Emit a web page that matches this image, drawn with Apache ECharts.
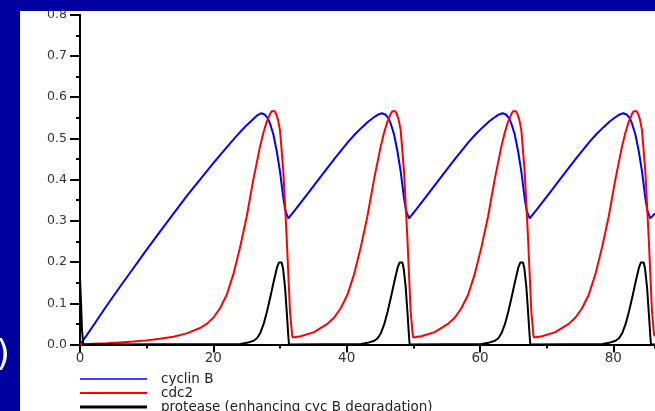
<!DOCTYPE html>
<html>
<head>
<meta charset="utf-8">
<script src="https://cdn.jsdelivr.net/npm/echarts@6/dist/echarts.min.js"></script>
<style>
  html, body { margin: 0; padding: 0; background: #fff; }
  #chart { width: 655px; height: 411px; }
</style>
</head>
<body>
<div id="chart"></div>
<script>
// time course: [t, concentration]
const cyclinB = [
  [0, 0], [1, 0.022], [2, 0.046], [4, 0.094], [6, 0.14], [8, 0.185], [10, 0.23], [12, 0.274],
  [14, 0.317], [16, 0.36], [18, 0.40], [20, 0.44], [22, 0.478], [23, 0.497], [24, 0.515],
  [25, 0.532], [26, 0.547], [26.6, 0.556], [27.2, 0.561], [27.7, 0.558], [28.2, 0.548],
  [28.5, 0.536], [29, 0.51], [29.5, 0.47], [30, 0.42], [30.5, 0.355], [30.8, 0.325], [31.25, 0.306],
  [32.25, 0.326], [34.25, 0.368], [36.25, 0.41], [38.25, 0.452], [40.25, 0.492], [41.25, 0.51],
  [42.25, 0.526], [43.25, 0.541], [44.25, 0.553], [44.75, 0.558], [45.3, 0.561], [45.8, 0.558],
  [46.3, 0.548], [46.6, 0.536], [47.1, 0.51], [47.6, 0.47], [48.1, 0.42], [48.6, 0.355],
  [48.9, 0.325], [49.35, 0.306],
  [50.35, 0.326], [52.35, 0.368], [54.35, 0.41], [56.35, 0.452], [58.35, 0.492], [59.35, 0.51],
  [60.35, 0.526], [61.35, 0.541], [62.35, 0.553], [62.85, 0.558], [63.4, 0.561], [63.9, 0.558],
  [64.4, 0.548], [64.7, 0.536], [65.2, 0.51], [65.7, 0.47], [66.2, 0.42], [66.7, 0.355],
  [67.0, 0.325], [67.45, 0.306],
  [68.45, 0.326], [70.45, 0.368], [72.45, 0.41], [74.45, 0.452], [76.45, 0.492], [77.45, 0.51],
  [78.45, 0.526], [79.45, 0.541], [80.45, 0.553], [80.95, 0.558], [81.5, 0.561], [82.0, 0.558],
  [82.5, 0.548], [82.8, 0.536], [83.3, 0.51], [83.8, 0.47], [84.3, 0.42], [84.8, 0.355],
  [85.1, 0.325], [85.55, 0.306], [86.25, 0.318]
]

const cdc2 = [
  [0, 0], [2, 0.002], [4, 0.003], [6, 0.005], [8, 0.007], [10, 0.01], [12, 0.014], [14, 0.019],
  [16, 0.027], [18, 0.04], [19, 0.05], [20, 0.065], [21, 0.088], [22, 0.12], [23, 0.17],
  [24, 0.235], [25, 0.31], [26, 0.40], [27, 0.48], [27.5, 0.513], [28, 0.54], [28.5, 0.559],
  [28.75, 0.566], [29, 0.568], [29.2, 0.566], [29.4, 0.56], [29.7, 0.545], [30, 0.52], [30.5, 0.42],
  [31, 0.26], [31.5, 0.08], [31.8, 0.025], [31.9, 0.017],
  [33.1, 0.02], [35.1, 0.03], [37.1, 0.05], [38.1, 0.065], [39.1, 0.088], [40.1, 0.12], [41.1, 0.17],
  [42.1, 0.235], [43.1, 0.31], [44.1, 0.40], [45.1, 0.48], [45.6, 0.513], [46.1, 0.54], [46.6, 0.559],
  [46.85, 0.566], [47.1, 0.568], [47.3, 0.566], [47.5, 0.56], [47.8, 0.545], [48.1, 0.52], [48.6, 0.42],
  [49.1, 0.26], [49.6, 0.08], [49.9, 0.025], [50.0, 0.017],
  [51.2, 0.02], [53.2, 0.03], [55.2, 0.05], [56.2, 0.065], [57.2, 0.088], [58.2, 0.12], [59.2, 0.17],
  [60.2, 0.235], [61.2, 0.31], [62.2, 0.40], [63.2, 0.48], [63.7, 0.513], [64.2, 0.54], [64.7, 0.559],
  [64.95, 0.566], [65.2, 0.568], [65.4, 0.566], [65.6, 0.56], [65.9, 0.545], [66.2, 0.52], [66.7, 0.42],
  [67.2, 0.26], [67.7, 0.08], [68.0, 0.025], [68.1, 0.017],
  [69.3, 0.02], [71.3, 0.03], [73.3, 0.05], [74.3, 0.065], [75.3, 0.088], [76.3, 0.12], [77.3, 0.17],
  [78.3, 0.235], [79.3, 0.31], [80.3, 0.40], [81.3, 0.48], [81.8, 0.513], [82.3, 0.54], [82.8, 0.559],
  [83.05, 0.566], [83.3, 0.568], [83.5, 0.566], [83.7, 0.56], [84.0, 0.545], [84.3, 0.52], [84.8, 0.42],
  [85.3, 0.26], [85.8, 0.08], [86.1, 0.025], [86.25, 0.02]
]

const protease = [
  [0, 0.16], [0.15, 0.104], [0.3, 0.035], [0.5, 0],
  [24.05, 0.001], [25.05, 0.004], [26.05, 0.009], [26.55, 0.015], [27.05, 0.028], [27.55, 0.05],
  [28.05, 0.08], [28.55, 0.115], [29.05, 0.152], [29.55, 0.187], [29.85, 0.199], [30.05, 0.202],
  [30.25, 0.199], [30.45, 0.185], [30.75, 0.14], [31.05, 0.07], [31.25, 0.02], [31.35, 0],
  [42.15, 0.001], [43.15, 0.004], [44.15, 0.009], [44.65, 0.015], [45.15, 0.028], [45.65, 0.05],
  [46.15, 0.08], [46.65, 0.115], [47.15, 0.152], [47.65, 0.187], [47.95, 0.199], [48.15, 0.202],
  [48.35, 0.199], [48.55, 0.185], [48.85, 0.14], [49.15, 0.07], [49.35, 0.02], [49.45, 0],
  [60.25, 0.001], [61.25, 0.004], [62.25, 0.009], [62.75, 0.015], [63.25, 0.028], [63.75, 0.05],
  [64.25, 0.08], [64.75, 0.115], [65.25, 0.152], [65.75, 0.187], [66.05, 0.199], [66.25, 0.202],
  [66.45, 0.199], [66.65, 0.185], [66.95, 0.14], [67.25, 0.07], [67.45, 0.02], [67.55, 0],
  [78.35, 0.001], [79.35, 0.004], [80.35, 0.009], [80.85, 0.015], [81.35, 0.028], [81.85, 0.05],
  [82.35, 0.08], [82.85, 0.115], [83.35, 0.152], [83.85, 0.187], [84.15, 0.199], [84.35, 0.202],
  [84.55, 0.199], [84.75, 0.185], [85.05, 0.14], [85.35, 0.07], [85.55, 0.02], [85.65, 0], [86.25, 0]
]

const seriesNames = ['cyclin B', 'cdc2', 'protease (enhancing cyc B degradation)']
const seriesColors = ['#0000ff', '#ff0000', '#000000']
const legendWidths = [1.5, 2, 3]   // legend line thickness per entry
const X_MAX = 86.25
const Y_MAX = 0.8

const FONT = '"DejaVu Sans", Verdana, sans-serif'
const SLIDE_BLUE = '#0000a0'

const chart = echarts.init(document.getElementById('chart'), null, { renderer: 'canvas' })

function lineSeries(name, data, color) {
  return {
    name, type: 'line', data,
    xAxisIndex: 0, yAxisIndex: 0,
    symbol: 'none', showSymbol: false,
    lineStyle: { color, width: 2 },
    itemStyle: { color },
    animation: false
  }
}

// one legend block per row so they stack exactly 14px apart
const legends = seriesNames.map((name, i) => ({
  left: 80, top: 372 + i * 14, padding: 0,
  icon: 'rect', itemWidth: 67, itemHeight: legendWidths[i],
  textStyle: { fontFamily: FONT, fontSize: 13.5, color: '#222', lineHeight: 14, padding: [0, 0, 0, 9] },
  data: [{ name, itemStyle: { color: seriesColors[i] } }]
}))

chart.setOption({
  backgroundColor: '#fff',
  animation: false,
  grid: { left: 80, right: 0, top: 14.7, bottom: 66.5, containLabel: false, outerBoundsMode: 'none' },
  legend: legends,
  xAxis: [{
    type: 'value', min: 0, max: X_MAX, interval: 20,
    axisLine: { onZero: false, lineStyle: { color: '#000', width: 2 } },
    axisTick: { length: 8, lineStyle: { color: '#000', width: 2 } },
    axisLabel: { fontFamily: FONT, fontSize: 13.5, color: '#333', margin: 7, showMaxLabel: false },
    splitLine: { show: false }
  }, {
    // minor ticks every 10
    type: 'value', min: 0, max: X_MAX, interval: 10, position: 'bottom',
    axisLine: { show: false },
    axisTick: { length: 4, lineStyle: { color: '#000', width: 2 } },
    axisLabel: { show: false },
    splitLine: { show: false }
  }],
  yAxis: {
    type: 'value', min: 0, max: Y_MAX, interval: 0.1,
    axisLine: { show: true, lineStyle: { color: '#000', width: 2 } },
    axisTick: { show: true, length: 10, lineStyle: { color: '#000', width: 2 } },
    minorTick: { show: true, splitNumber: 2, length: 4, lineStyle: { color: '#000', width: 2 } },
    axisLabel: { fontFamily: FONT, fontSize: 12.5, color: '#333', margin: 13, formatter: v => v.toFixed(1) },
    splitLine: { show: false }
  },
  series: seriesNames.map((n, i) => lineSeries(n, [cyclinB, cdc2, protease][i], seriesColors[i])),
  graphic: [
    { type: 'rect', left: 0, top: 0, z: -1, shape: { width: 20, height: 411 }, style: { fill: SLIDE_BLUE } },
    { type: 'rect', left: 0, top: 0, z: -1, shape: { width: 655, height: 11 }, style: { fill: SLIDE_BLUE } },
    { type: 'text', left: -4, top: 338, z: 101, style: { text: ')', fill: '#fff', font: '36px "DejaVu Sans", sans-serif' } }
  ]
})

window.addEventListener('resize', () => chart.resize())
</script>
</body>
</html>
